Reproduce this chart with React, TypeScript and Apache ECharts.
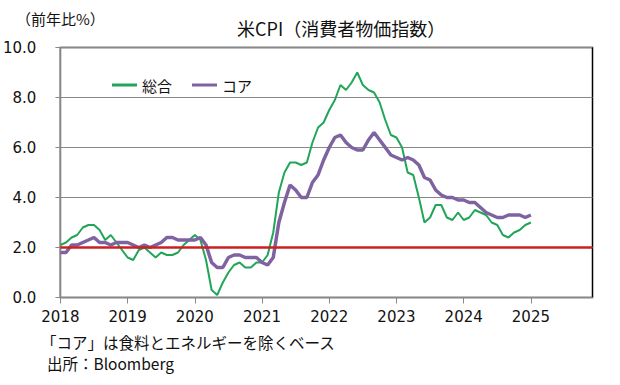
import React, { useEffect, useRef } from "react";
import * as echarts from "echarts";

// ---- data ----
const years = ["2018", "2019", "2020", "2021", "2022", "2023", "2024", "2025"];
const monthsPerYear = ["01", "02", "03", "04", "05", "06", "07", "08", "09", "10", "11", "12"];

// 総合 (headline CPI, YoY %) Jan 2018 – Jan 2025
const headline = [
  2.1, 2.2, 2.4, 2.5, 2.8, 2.9, 2.9, 2.7, 2.3, 2.5, 2.2, 1.9,
  1.6, 1.5, 1.9, 2.0, 1.8, 1.6, 1.8, 1.7, 1.7, 1.8, 2.1, 2.3,
  2.5, 2.3, 1.5, 0.3, 0.1, 0.6, 1.0, 1.3, 1.4, 1.2, 1.2, 1.4,
  1.4, 1.7, 2.6, 4.2, 5.0, 5.4, 5.4, 5.3, 5.4, 6.2, 6.8, 7.0,
  7.5, 7.9, 8.5, 8.3, 8.6, 9.0, 8.5, 8.3, 8.2, 7.8, 7.1, 6.5,
  6.4, 6.0, 5.0, 4.9, 4.0, 3.0, 3.2, 3.7, 3.7, 3.2, 3.1, 3.4,
  3.1, 3.2, 3.5, 3.4, 3.3, 3.0, 2.9, 2.5, 2.4, 2.6, 2.7, 2.9,
  3.0,
];

// コア (core CPI, YoY %) Jan 2018 – Jan 2025
const core = [
  1.8, 1.8, 2.1, 2.1, 2.2, 2.3, 2.4, 2.2, 2.2, 2.1, 2.2, 2.2,
  2.2, 2.1, 2.0, 2.1, 2.0, 2.1, 2.2, 2.4, 2.4, 2.3, 2.3, 2.3,
  2.3, 2.4, 2.1, 1.4, 1.2, 1.2, 1.6, 1.7, 1.7, 1.6, 1.6, 1.6,
  1.4, 1.3, 1.6, 3.0, 3.8, 4.5, 4.3, 4.0, 4.0, 4.6, 4.9, 5.5,
  6.0, 6.4, 6.5, 6.2, 6.0, 5.9, 5.9, 6.3, 6.6, 6.3, 6.0, 5.7,
  5.6, 5.5, 5.6, 5.5, 5.3, 4.8, 4.7, 4.3, 4.1, 4.0, 4.0, 3.9,
  3.9, 3.8, 3.8, 3.6, 3.4, 3.3, 3.2, 3.2, 3.3, 3.3, 3.3, 3.2,
  3.3,
];

const targetLine = 2.0;
const yTicks = { min: 0, max: 10, interval: 2 };

const titleText = "米CPI（消費者物価指数）";
const unitText = "（前年比%）";
const noteText = "「コア」は食料とエネルギーを除くベース";
const sourceText = "出所：Bloomberg";
const seriesNames = ["総合", "コア"];

const categories: string[] = [];
years.forEach((y) => monthsPerYear.forEach((m) => categories.push(`${y}-${m}`)));

const JP = '"Noto Sans CJK JP", "Noto Sans", sans-serif';
const NUM = '"DejaVu Sans", "Noto Sans", sans-serif';

const GREEN = "#21a558";
const PURPLE = "#7f63a1";

export default function App() {
  const ref = useRef<HTMLDivElement>(null);

  useEffect(() => {
    document.body.style.margin = "0";
    if (!ref.current) return;
    const chart = echarts.init(ref.current, undefined, { renderer: "svg" });
    chart.setOption({
      animation: false,
      backgroundColor: "#ffffff",
      title: {
        text: titleText,
        left: 232,
        top: 14,
        textStyle: { fontFamily: JP, fontSize: 18, fontWeight: "normal", color: "#111" },
      },
      legend: {
        left: 107,
        top: 71,
        itemWidth: 25,
        itemHeight: 3,
        itemGap: 20,
        data: [
          { name: seriesNames[0], icon: "rect", itemStyle: { color: GREEN } },
          { name: seriesNames[1], icon: "rect", itemStyle: { color: PURPLE } },
        ],
        textStyle: { fontFamily: JP, fontSize: 15, color: "#111", lineHeight: 18 },
      },
      grid: {
        left: 60,
        right: 27.5,
        top: 47.5,
        bottom: 87.5,
        show: true,
        borderColor: "#000",
        borderWidth: 1.5,
        containLabel: false,
      },
      xAxis: {
        type: "category",
        data: categories,
        boundaryGap: false,
        axisLine: { show: true, lineStyle: { color: "#888", width: 1 } },
        axisTick: { show: true, interval: 11, length: 6, lineStyle: { color: "#888" } },
        axisLabel: {
          interval: 11,
          margin: 12,
          formatter: (v: string) => v.slice(0, 4),
          fontFamily: NUM,
          fontSize: 15,
          color: "#111",
        },
        splitLine: { show: false },
      },
      yAxis: {
        type: "value",
        min: yTicks.min,
        max: yTicks.max,
        interval: yTicks.interval,
        axisLine: { show: true, lineStyle: { color: "#888", width: 1 } },
        axisTick: { show: true, length: 5, lineStyle: { color: "#888" } },
        axisLabel: {
          margin: 24,
          formatter: (v: number) => v.toFixed(1),
          fontFamily: NUM,
          fontSize: 15,
          color: "#111",
        },
        splitLine: { show: true, lineStyle: { color: "#888", width: 1 } },
      },
      series: [
        {
          name: seriesNames[0],
          type: "line",
          data: headline,
          symbol: "none",
          lineStyle: { color: GREEN, width: 2 },
          itemStyle: { color: GREEN },
          z: 3,
        },
        {
          name: seriesNames[1],
          type: "line",
          data: core,
          symbol: "none",
          lineStyle: { color: PURPLE, width: 3.5 },
          itemStyle: { color: PURPLE },
          z: 4,
          markLine: {
            silent: true,
            symbol: "none",
            label: { show: false },
            lineStyle: { color: "#cc1f1f", width: 2.5, type: "solid" },
            data: [{ yAxis: targetLine }],
            z: 5,
          },
        },
      ],
      graphic: [
        {
          type: "text",
          left: 16,
          top: 9,
          style: { text: unitText, fontFamily: JP, fontSize: 15, lineHeight: 18, fill: "#111" },
        },
        {
          type: "text",
          left: 41,
          top: 333,
          style: { text: noteText, fontFamily: JP, fontSize: 15.5, lineHeight: 18, fill: "#111" },
        },
        {
          type: "text",
          left: 47,
          top: 354,
          style: { text: sourceText, fontFamily: JP, fontSize: 15.5, lineHeight: 18, fill: "#111" },
        },
      ],
    });
    return () => chart.dispose();
  }, []);

  return <div ref={ref} style={{ width: 620, height: 385 }} />;
}
